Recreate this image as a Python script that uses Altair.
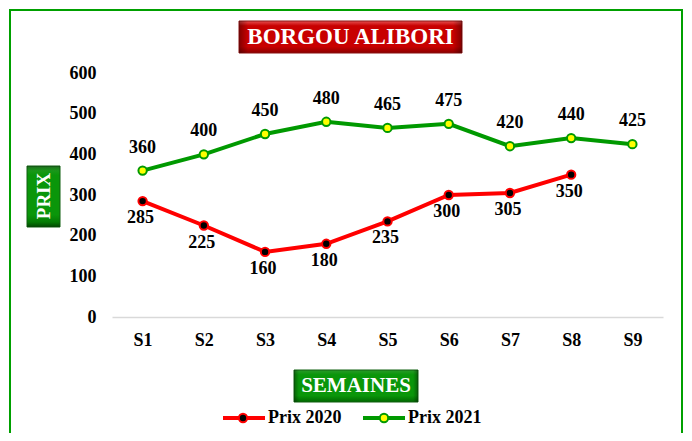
import altair as alt
import pandas as pd

semaines = ["S1", "S2", "S3", "S4", "S5", "S6", "S7", "S8", "S9"]
prix_2020 = [285, 225, 160, 180, 235, 300, 305, 350]
prix_2021 = [360, 400, 450, 480, 465, 475, 420, 440, 425]
series = ["Prix 2020", "Prix 2021"]
y_ticks = [0, 100, 200, 300, 400, 500, 600]
titre = "BORGOU ALIBORI"
titre_y = "PRIX"
titre_x = "SEMAINES"

rows = []
for s, v in zip(semaines, prix_2020):
    rows.append({"Semaine": s, "Série": series[0], "Prix": v})
for s, v in zip(semaines, prix_2021):
    rows.append({"Semaine": s, "Série": series[1], "Prix": v})
df = pd.DataFrame(rows)
dummy = pd.DataFrame({"d": [0]})

FONT = "Liberation Serif"
RED = "#ff0000"
GREEN = "#009900"
BORDER = "#00a000"

x = alt.X("Semaine:N", sort=semaines, scale=alt.Scale(domain=semaines),
          axis=alt.Axis(title=None, labelAngle=0, ticks=False, grid=False,
                        domainColor="#d9d9d9", domainWidth=1.5, labelPadding=14,
                        labelFont=FONT, labelFontSize=18, labelFontWeight="bold",
                        labelColor="black"))
y = alt.Y("Prix:Q", scale=alt.Scale(domain=[0, 600], nice=False),
          axis=alt.Axis(title=None, values=y_ticks, domain=False, ticks=False, grid=False,
                        labelPadding=16, labelFont=FONT, labelFontSize=18,
                        labelFontWeight="bold", labelColor="black"))

lines = alt.Chart(df).mark_line(strokeWidth=4).encode(
    x=x, y=y,
    color=alt.Color("Série:N", scale=alt.Scale(domain=series, range=[RED, GREEN]), legend=None))
points = alt.Chart(df).mark_circle(size=70, strokeWidth=2, opacity=1).encode(
    x=x, y=y,
    fill=alt.Fill("Série:N", scale=alt.Scale(domain=series, range=["black", "yellow"]), legend=None),
    stroke=alt.Stroke("Série:N", scale=alt.Scale(domain=series, range=[RED, GREEN]), legend=None))
lab20 = alt.Chart(df).transform_filter(alt.datum["Série"] == series[0]).mark_text(
    font=FONT, fontSize=18, fontWeight="bold", color="black", dy=17, dx=-2, baseline="middle").encode(
    x=x, y=y, text="Prix:Q")
lab21 = alt.Chart(df).transform_filter(alt.datum["Série"] == series[1]).mark_text(
    font=FONT, fontSize=18, fontWeight="bold", color="black", dy=-23, baseline="middle").encode(
    x=x, y=y, text="Prix:Q")


def rect(x1, x2, y1, y2, **kw):
    return alt.Chart(dummy).mark_rect(**kw).encode(
        x=alt.value(x1), x2=alt.value(x2), y=alt.value(y1), y2=alt.value(y2))


def label(txt, px, py, size, angle=0):
    return alt.Chart(dummy).mark_text(text=txt, font=FONT, fontSize=size, fontWeight="bold",
                                      color="white", align="center", baseline="middle",
                                      angle=angle).encode(x=alt.value(px), y=alt.value(py))


def vgrad(c_top, c_mid, c_bot):
    return alt.LinearGradient(gradient="linear", x1=0, x2=0, y1=0, y2=1, stops=[
        alt.GradientStop(color=c_top, offset=0), alt.GradientStop(color=c_mid, offset=0.15),
        alt.GradientStop(color=c_mid, offset=0.8), alt.GradientStop(color=c_bot, offset=1)])


def hshade():
    return alt.LinearGradient(gradient="linear", x1=0, x2=1, y1=0, y2=0, stops=[
        alt.GradientStop(color="rgba(0,0,0,0.35)", offset=0), alt.GradientStop(color="rgba(0,0,0,0)", offset=0.04),
        alt.GradientStop(color="rgba(0,0,0,0)", offset=0.96), alt.GradientStop(color="rgba(0,0,0,0.35)", offset=1)])


def vshade():
    return alt.LinearGradient(gradient="linear", x1=0, x2=0, y1=0, y2=1, stops=[
        alt.GradientStop(color="rgba(0,0,0,0.3)", offset=0), alt.GradientStop(color="rgba(0,0,0,0)", offset=0.08),
        alt.GradientStop(color="rgba(0,0,0,0)", offset=0.92), alt.GradientStop(color="rgba(0,0,0,0.3)", offset=1)])


border = rect(-102, 570, -63, 400, fill="white", fillOpacity=0, stroke=BORDER, strokeWidth=2)

title_box = [rect(127, 350, -52, -20, fill=vgrad("#e65050", "#c80000", "#8a0000"), stroke="#8a1010", strokeWidth=1),
             rect(127, 350, -52, -20, fill=hshade()),
             label(titre, 238.5, -36, 23)]
prix_box = [rect(-85, -52, 93, 154, fill=vgrad("#2a9a2a", "#0a960a", "#006800"), stroke="#106010", strokeWidth=1),
            rect(-85, -52, 93, 154, fill=vshade()),
            label(titre_y, -68.5, 123, 19, angle=270)]
sem_box = [rect(182, 306, 297, 329, fill=vgrad("#2a9a2a", "#0a960a", "#006800"), stroke="#106010", strokeWidth=1),
           rect(182, 306, 297, 329, fill=hshade()),
           label(titre_x, 244, 313, 21)]

leg = []
for (lx1, lx2, dotx, tx, name, lc, dc) in [(111, 153, 131, 156, series[0], RED, "black"),
                                            (251, 293, 272, 296, series[1], GREEN, "yellow")]:
    leg.append(alt.Chart(dummy).mark_rule(strokeWidth=4, color=lc).encode(
        x=alt.value(lx1), x2=alt.value(lx2), y=alt.value(345)))
    leg.append(alt.Chart(dummy).mark_circle(size=70, fill=dc, stroke=lc, strokeWidth=2, opacity=1).encode(
        x=alt.value(dotx), y=alt.value(345)))
    leg.append(alt.Chart(dummy).mark_text(text=name, font=FONT, fontSize=18, fontWeight="bold",
                                          color="black", align="left", baseline="middle").encode(
        x=alt.value(tx), y=alt.value(345)))

chart = alt.layer(border, *title_box, *prix_box, *sem_box, lines, points, lab20, lab21, *leg).properties(
    width=551, height=244,
    autosize=alt.AutoSizeParams(type="none"),
    padding={"left": 104, "top": 65, "right": 21, "bottom": 116},
).configure_view(stroke=None)

chart.save("out.html", embed_options={"renderer": "svg", "actions": False})
